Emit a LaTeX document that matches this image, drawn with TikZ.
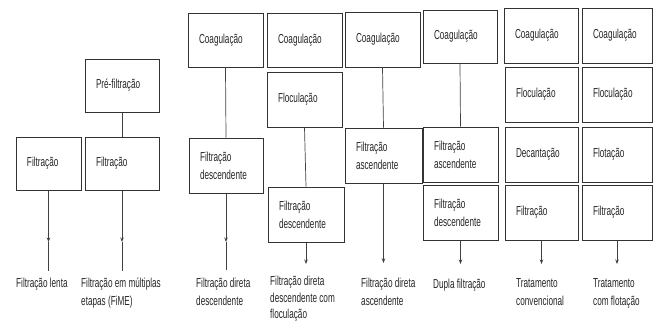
\documentclass[tikz,border=0pt]{standalone}
\usepackage{fontspec}
\setmainfont{Liberation Sans}[FakeStretch=0.63]
\usetikzlibrary{arrows.meta}
\newcommand\pbox[6]{%
 \pgfmathsetmacro\pbW{#4-#2}\pgfmathsetmacro\pbH{#5-#3}\pgfmathsetmacro\pbT{#4-#2-22}%
 \node[box, minimum width=\pbW pt, minimum height=\pbH pt, text width=\pbT pt] (#1) at ({(#2+#4)/2},{(#3+#5)/2}) {#6};}
\begin{document}
\begin{tikzpicture}[x=1pt,y=-1pt,
  every node/.style={font=\fontsize{13}{18}\selectfont, text=black!85},
  box/.style={draw=black!80, line width=1pt, inner xsep=11pt, inner ysep=2pt, align=left},
  lab/.style={anchor=north west, inner sep=0pt, align=left},
  conn/.style={draw=black!75, line width=0.7pt},
  arr/.style={conn, -{Stealth[length=4.5pt,width=3.5pt]}}]
\useasboundingbox (0,0) rectangle (654,325);
% column 1
\pbox{a1}{16}{137}{81}{190}{Filtração}
% column 2
\pbox{b1}{85}{59}{159}{112}{Pré-filtração}
\pbox{b2}{85}{137}{159}{190}{Filtração}
% column 3
\pbox{c1}{188}{13}{263}{67}{Coagulação}
\pbox{c2}{189}{138}{263}{193}{Filtração\\descendente}
% column 4
\pbox{d1}{267}{13}{342}{67}{Coagulação}
\pbox{d2}{267}{72}{342}{127}{Floculação}
\pbox{d3}{268}{187}{344}{242}{Filtração\\descendente}
% column 5
\pbox{e1}{345}{12}{420}{67}{Coagulação}
\pbox{e2}{345}{128}{422}{183}{Filtração\\ascendente}
% column 6
\pbox{f1}{423}{10}{497}{63}{Coagulação}
\pbox{f2}{423}{127}{498}{182}{Filtração\\ascendente}
\pbox{f3}{423}{185}{498}{240}{Filtração\\descendente}
% column 7
\pbox{g1}{504}{8}{578}{63}{Coagulação}
\pbox{g2}{505}{67}{578}{122}{Floculação}
\pbox{g3}{505}{127}{578}{182}{Decantação}
\pbox{g4}{505}{185}{578}{240}{Filtração}
% column 8
\pbox{h1}{582}{8}{652}{63}{Coagulação}
\pbox{h2}{582}{67}{652}{122}{Floculação}
\pbox{h3}{582}{127}{652}{182}{Flotação}
\pbox{h4}{582}{185}{652}{240}{Filtração}
% connectors between boxes
\draw[conn] (b1.south) -- (b2.north);
\draw[conn] (c1.south) -- (c2.north);
\draw[conn] (d2.south) -- (d3.north);
\draw[conn] (e1.south) -- (e2.north);
\draw[conn] (f1.south) -- (f2.north);
% arrow coordinates
\coordinate (ta) at (a1.south |- 0,242); \coordinate (ea) at (a1.south |- 0,271);
\coordinate (tb) at (b2.south |- 0,242); \coordinate (eb) at (b2.south |- 0,271);
\coordinate (tc) at (c2.south |- 0,242); \coordinate (ec) at (c2.south |- 0,270);
\coordinate (td) at (d3.south |- 0,264);
\coordinate (te) at (e2.south |- 0,263);
\coordinate (tf) at (f3.south |- 0,264);
\coordinate (tg) at (g4.south |- 0,264);
\coordinate (th) at (h4.south |- 0,264);
\draw[arr] (a1.south) -- (ta); \draw[conn] (ta) -- (ea);
\draw[arr] (b2.south) -- (tb); \draw[conn] (tb) -- (eb);
\draw[arr] (c2.south) -- (tc); \draw[conn] (tc) -- (ec);
\draw[arr] (d3.south) -- (td);
\draw[arr] (e2.south) -- (te);
\draw[arr] (f3.south) -- (tf);
\draw[arr] (g4.south) -- (tg);
\draw[arr] (h4.south) -- (th);
% labels
\node[lab] (la) at (16,278) {Filtração lenta};
\node[lab] (lb) at (81,278) {Filtração em múltiplas\\etapas (FiME)};
\node[lab] (lc) at (196,278) {Filtração direta\\descendente};
\node[lab, font=\fontsize{13}{16.5}\selectfont] (ld) at (270,276) {Filtração direta\\descendente com\\floculação};
\node[lab] (le) at (361,278) {Filtração direta\\ascendente};
\node[lab] (lf) at (433,279) {Dupla filtração};
\node[lab] (lg) at (516,278) {Tratamento\\convencional};
\node[lab] (lh) at (593,278) {Tratamento\\com flotação};
\end{tikzpicture}
\end{document}
